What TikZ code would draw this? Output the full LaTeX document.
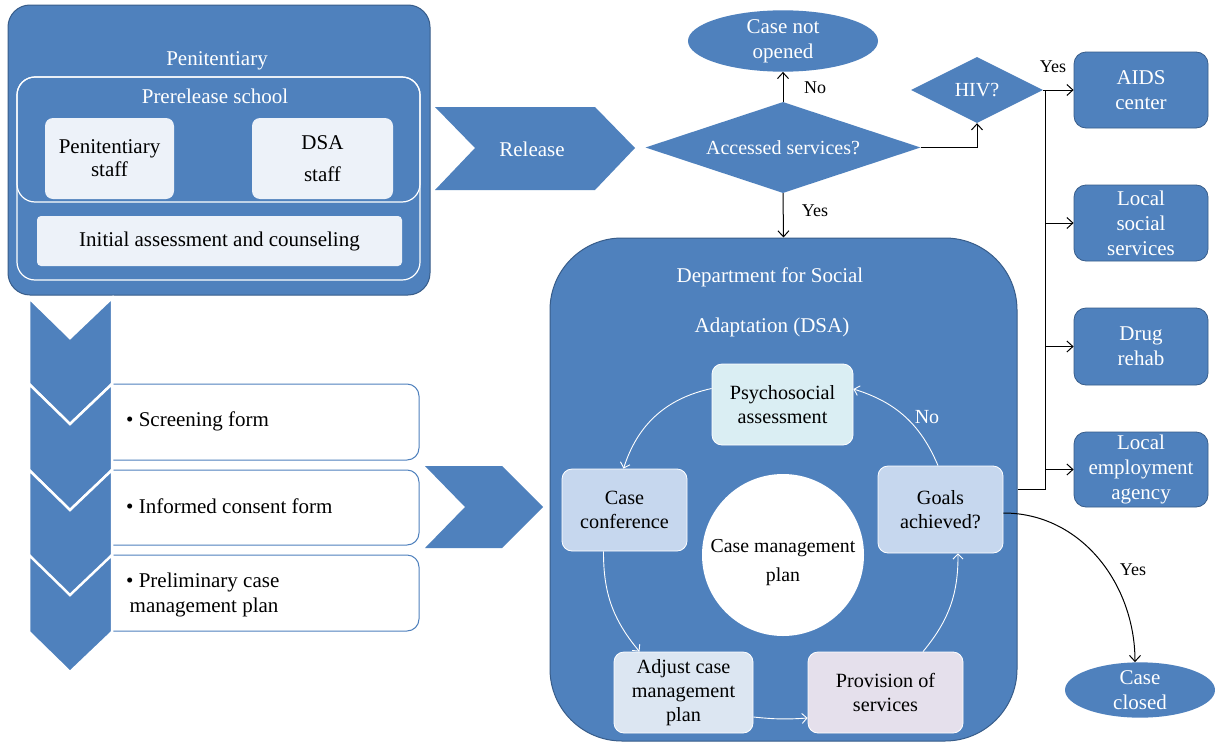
\documentclass[tikz,border=0pt]{standalone}
\usepackage{fontspec}
\setmainfont{Liberation Serif}
\usetikzlibrary{shapes.geometric,arrows.meta,calc}
\definecolor{bfill}{HTML}{4F81BD}
\definecolor{bdraw}{HTML}{385D8A}
\definecolor{lightfill}{HTML}{EDF2F9}
\definecolor{psyfill}{HTML}{DAEEF3}
\definecolor{conffill}{HTML}{C6D7EE}
\definecolor{adjfill}{HTML}{DCE6F2}
\definecolor{provfill}{HTML}{E5E0EC}
\begin{document}
\begin{tikzpicture}[x=1pt,y=-1pt,
  txt/.style={font=\fontsize{21}{25}\selectfont, align=center, inner sep=0pt},
  bluebox/.style={txt, rectangle, rounded corners=12pt, fill=bfill, draw=bdraw, line width=0.8pt, text=white},
  lightbox/.style={txt, rectangle, rounded corners=8pt, fill=lightfill, draw=none},
  cycbox/.style={txt, font=\fontsize{20.2}{24}\selectfont, rectangle, rounded corners=10pt, draw=white, line width=0.8pt},
  cyc/.style={draw=white, line width=0.9pt, -{Straight Barb[length=5pt,width=10pt]}},
  conn/.style={draw=black, line width=1pt, -{Straight Barb[length=6pt,width=11pt]}},
  lbl/.style={font=\fontsize{18}{20}\selectfont, inner sep=0pt},
  chev/.style={fill=bfill, draw=white, line width=2.5pt, line join=miter},
  ]
\useasboundingbox (0,0) rectangle (1215,744);
\fill[white] (0,0) rectangle (1215,744);

% Penitentiary
\node[rectangle, rounded corners=22pt, fill=bfill, draw=bdraw, line width=1pt,
      minimum width=422pt, minimum height=290pt, inner sep=0pt] (pen) at (219,150) {};
\node[txt, text=white] (pentitle) at (217,61) {Penitentiary};
\node[rectangle, rounded corners=18pt, draw=white, line width=1.2pt,
      minimum width=403pt, minimum height=203pt, inner sep=0pt] (school) at (218.5,178.5) {};
\node[rectangle, rounded corners=18pt, draw=white, line width=1.2pt,
      minimum width=403pt, minimum height=125pt, inner sep=0pt] (schooltop) at (218.5,139.5) {};
\node[txt, text=white] (schooltitle) at (215,96) {Prerelease school};
\node[lightbox, minimum width=129pt, minimum height=81pt] (penstaff) at (109.5,158.5) {Penitentiary\\[-2pt]staff};
\node[lightbox, minimum width=141pt, minimum height=81pt] (dsastaff) at (322.5,158.5) {DSA\\[7pt]staff};
\node[lightbox, rounded corners=4pt, minimum width=365pt, minimum height=50pt] (initial) at (219.5,241) {Initial assessment and counseling};

% Release chevron
\path[fill=bfill] (435,107) -- (595,107) -- (635,148) -- (595,190) -- (435,190) -- (475,148) -- cycle;
\node[txt, text=white] (release) at (532,149) {Release};

% Left column boxes
\path[draw=bfill, fill=white, line width=1pt, rounded corners=12pt] (100,384) -- (419,384) -- (419,460) -- (100,460);
\path[draw=bfill, fill=white, line width=1pt, rounded corners=12pt] (100,470) -- (419,470) -- (419,545) -- (100,545);
\path[draw=bfill, fill=white, line width=1pt, rounded corners=12pt] (100,555) -- (419,555) -- (419,631) -- (100,631);

% Left chevrons
\foreach \t in {298,384,470} {
  \path[chev] (29,\t) -- (70,\t+40) -- (112,\t) -- (112,\t+86) -- (70,\t+126) -- (29,\t+86) -- cycle;
}
\path[chev] (29,555) -- (70,595) -- (112,555) -- (112,632) -- (70,672) -- (29,632) -- cycle;

\node[txt, anchor=west, align=left] (screen) at (126,421) {\textbullet\ Screening form};
\node[txt, anchor=west, align=left] (consent) at (126,506) {\textbullet\ Informed consent form};
\node[txt, anchor=west, align=left] (prelim) at (126,595) {\textbullet\ Preliminary case\\\,management plan};

% Chevron to DSA
\path[fill=bfill] (425,466) -- (502,466) -- (543,507) -- (502,548) -- (425,548) -- (465,507) -- cycle;

% DSA
\node[rectangle, rounded corners=72pt, fill=bfill, draw=bdraw, line width=1pt,
      minimum width=467pt, minimum height=503pt, inner sep=0pt] (dsa) at (783.5,489.5) {};
\node[txt, text=white] (dsatitle1) at (770,277) {Department for Social};
\node[txt, text=white] (dsatitle2) at (772,327) {Adaptation (DSA)};

\node[cycbox, fill=psyfill, minimum width=141pt, minimum height=81pt] (psy) at (782.5,404.5) {Psychosocial\\assessment};
\node[cycbox, fill=conffill, minimum width=125pt, minimum height=82pt] (conf) at (624.5,510) {Case\\conference};
\node[cycbox, fill=conffill, minimum width=125pt, minimum height=87pt] (goals) at (940.5,509.5) {Goals\\achieved?};
\node[cycbox, fill=adjfill, minimum width=139pt, minimum height=81pt] (adj) at (683.5,692.5) {Adjust case\\management\\plan};
\node[cycbox, fill=provfill, minimum width=155pt, minimum height=81pt] (prov) at (885.5,692.5) {Provision of\\services};
\node[circle, fill=white, minimum size=162pt, inner sep=0pt] (cmp) at (783,555) {};
\node[align=center, inner sep=0pt, font=\fontsize{19.8}{29}\selectfont] (cmptext) at (783,563) {Case management\\plan};

\draw[cyc] ([yshift=16pt]psy.west) to[bend right=30] ([xshift=-1pt]conf.north);
\draw[cyc] ([xshift=-21pt]conf.south) to[bend right=20] ([xshift=-44pt]adj.north);
\draw[cyc] ([yshift=-24.5pt]adj.east) to[bend right=5] ([yshift=-25.5pt]prov.west);
\draw[cyc] ([xshift=37.5pt]prov.north) to[bend right=20] ([xshift=17.5pt]goals.south);
\draw[cyc] ([xshift=-2.5pt]goals.north) to[bend right=25] ([yshift=15.5pt]psy.east);
\node[txt, text=white, font=\fontsize{20}{24}\selectfont] (nolbl2) at (927,417) {No};

% Top right decisions
\node[ellipse, fill=bfill, txt, text=white, minimum width=190pt, minimum height=51pt] (cno) at (783,41) {Case not\\opened};
\node[diamond, aspect=3, fill=bfill, txt, text=white, font=\fontsize{20}{24}\selectfont, minimum width=275pt, minimum height=91pt] (acc) at (783,147.5) {Accessed services?};
\node[diamond, aspect=2, fill=bfill, txt, text=white, font=\fontsize{20}{24}\selectfont, minimum width=132pt, minimum height=66pt] (hiv) at (977,90) {HIV?};

% Right boxes
\node[bluebox, minimum width=134pt, minimum height=76pt] (aids) at (1141,90) {AIDS\\center};
\node[bluebox, minimum width=134pt, minimum height=76pt] (soc) at (1141,223) {Local\\social\\services};
\node[bluebox, minimum width=134pt, minimum height=77pt] (drug) at (1141,346.5) {Drug\\rehab};
\node[bluebox, minimum width=134pt, minimum height=75pt] (emp) at (1141,469.5) {Local\\employment\\agency};
\node[ellipse, fill=bfill, txt, text=white, minimum width=150pt, minimum height=50pt] (cclosed) at (1140,690) {Case\\closed};

% Connectors
\draw[conn] (acc.north) -- (cno.south);
\draw[conn] (acc.south) -- (dsa.north);
\draw[conn] (acc.east) -| (hiv.south);
\draw[conn] (hiv.east) -- (aids.west);
\coordinate (jtop) at (1045,90);
\draw[line width=1pt] (dsa.east) -| (jtop);
\draw[conn] (jtop |- soc.west) -- (soc.west);
\draw[conn] (jtop |- drug.west) -- (drug.west);
\draw[conn] (jtop |- emp.west) -- (emp.west);
\draw[conn] ([yshift=-3.5pt]goals.east) to[out=0,in=90] ([xshift=-5pt]cclosed.north);

\node[lbl] (nolbl) at (815,88) {No};
\node[lbl] (yeslbl1) at (815,211) {Yes};
\node[lbl] (yeslbl2) at (1053,67) {Yes};
\node[lbl] (yeslbl3) at (1133,570) {Yes};
\end{tikzpicture}
\end{document}
